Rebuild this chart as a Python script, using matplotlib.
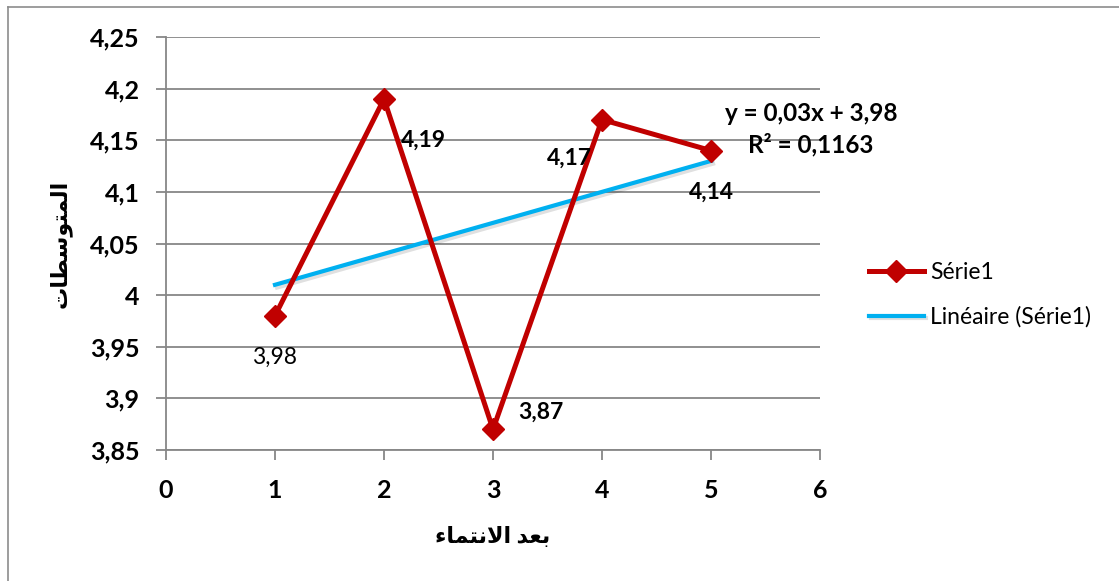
import numpy as np
import matplotlib
matplotlib.use("Agg")
import matplotlib.pyplot as plt
import matplotlib.patheffects as pe
from matplotlib.lines import Line2D

# data
x_vals = [1, 2, 3, 4, 5]
y_vals = [3.98, 4.19, 3.87, 4.17, 4.14]
point_labels = ["3,98", "4,19", "3,87", "4,17", "4,14"]
y_ticks = [3.85, 3.9, 3.95, 4.0, 4.05, 4.1, 4.15, 4.2, 4.25]
y_ticklabels = ["3,85", "3,9", "3,95", "4", "4,05", "4,1", "4,15", "4,2", "4,25"]
x_ticks = [0, 1, 2, 3, 4, 5, 6]

# arabic labels, pre-shaped (presentation forms, visual order)
xlabel_ar = "\uFE80\uFE8E\uFEE4\uFE98\uFEE7\uFEFB\uFE8D \uFEAA\uFECC\uFE91"   # بعد الانتماء
ylabel_ar = "\uFE95\uFE8E\uFEC4\uFEB3\uFEEE\uFE98\uFEE4\uFEDF\uFE8D"          # المتوسطات

FONT = ["Lato", "DejaVu Sans"]
plt.rcParams["font.family"] = FONT

RED = "#C00000"
CYAN = "#00B0F0"
GRID = "#878787"

# linear trend
slope, intercept = np.polyfit(x_vals, y_vals, 1)
fit = np.polyval([slope, intercept], x_vals)
r2 = 1 - np.sum((np.array(y_vals) - fit) ** 2) / np.sum((np.array(y_vals) - np.mean(y_vals)) ** 2)

W, H = 1119, 581
fig = plt.figure(figsize=(W / 100, H / 100), dpi=100)
# chart frame: only top and left edges show
fig.lines.append(Line2D([8 / W, 8 / W], [0, 1 - 6.5 / H], transform=fig.transFigure,
                        color="#8c8c8c", linewidth=1.2))
fig.lines.append(Line2D([8 / W, 1], [1 - 6.5 / H, 1 - 6.5 / H], transform=fig.transFigure,
                        color="#8c8c8c", linewidth=1.2))

ax = fig.add_axes([166 / W, (H - 450) / H, 654 / W, 413 / H])
ax.set_xlim(0, 6)
ax.set_ylim(3.85, 4.25)

ax.set_yticks(y_ticks)
ax.set_yticklabels(y_ticklabels)
ax.set_xticks(x_ticks)
ax.tick_params(axis="both", labelsize=18, length=7, width=1.3, color=GRID)
ax.tick_params(axis="y", pad=12)
ax.tick_params(axis="x", pad=14)
for lab in ax.get_xticklabels() + ax.get_yticklabels():
    lab.set_fontweight("bold")

for s in ["top", "right"]:
    ax.spines[s].set_visible(False)
for s in ["left", "bottom"]:
    ax.spines[s].set_color(GRID)
    ax.spines[s].set_linewidth(1.3)
ax.yaxis.grid(True, color=GRID, linewidth=1.3)
ax.set_axisbelow(True)

ax.plot(x_vals, y_vals, color=RED, linewidth=3.6, marker="D", markersize=11,
        label="Série1", zorder=3)
ax.plot(x_vals, fit, color=CYAN, linewidth=3.0, label="Linéaire (Série1)", zorder=2,
        path_effects=[pe.SimpleLineShadow(offset=(1.5, -2), alpha=0.12), pe.Normal()])

# data labels
offsets = [(0, -30, "center", False), (12, -30, "left", True), (18, 12, "left", True),
           (-7, -28, "right", True), (0, -30, "center", True)]
for xv, yv, txt, (dx, dy, ha, bold) in zip(x_vals, y_vals, point_labels, offsets):
    ax.annotate(txt, (xv, yv), xytext=(dx, dy), textcoords="offset points",
                ha=ha, va="center", fontsize=16.5,
                fontweight="bold" if bold else "normal")

eq = "y = {:.2f}x + {:.2f}\nR² = {:.4f}".format(slope, intercept, r2).replace(".", ",")
fig.text(811 / W, 1 - 129 / H, eq, ha="center", va="center", fontsize=17.5,
         fontweight="bold", linespacing=1.4)

ax.set_xlabel(xlabel_ar, fontsize=16, fontweight="bold", labelpad=17)
ax.set_ylabel(ylabel_ar, fontsize=16, fontweight="bold", labelpad=13)

ax.legend(loc="center left", bbox_to_anchor=(848 / W, 1 - 295 / H), bbox_transform=fig.transFigure,
          frameon=False, fontsize=16.5, handlelength=2.4, labelspacing=1.0, handletextpad=0.3)

fig.savefig("out.png", dpi=100)
